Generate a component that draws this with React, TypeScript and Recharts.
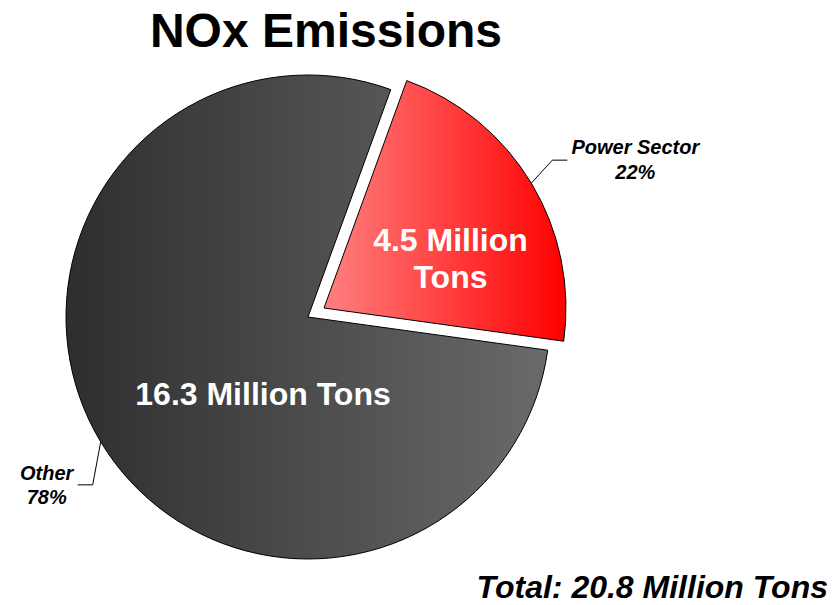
import { PieChart, Pie, Cell } from "recharts";

const sectors = ["Power Sector", "Other"];
const tons = [4.5, 16.3];
const shares = ["22%", "78%"];
const innerLabels = [["4.5 Million", "Tons"], ["16.3 Million Tons"]];
const title = "NOx Emissions";
const totalLabel = "Total: 20.8 Million Tons";

const data = sectors.map((name, i) => ({ name, value: tons[i], share: shares[i] }));

const RADIAN = Math.PI / 180;
const FONT = "'Liberation Sans', Arial, sans-serif";
const R = 242;

const polar = (cx: number, cy: number, r: number, angle: number) => ({
  x: cx + r * Math.cos(-angle * RADIAN),
  y: cy + r * Math.sin(-angle * RADIAN),
});

// labels for the exploded power slice
function powerLabel(props: any) {
  const { cx, cy, midAngle, outerRadius, index } = props;
  if (index !== 0) return null;
  const p0 = polar(cx, cy, outerRadius, midAngle);
  const elbow = { x: p0.x + 21, y: p0.y - 23 };
  const end = { x: elbow.x + 15, y: elbow.y };
  const inner = polar(cx, cy, outerRadius * 0.56, midAngle - 10);
  return (
    <g>
      <polyline points={`${p0.x},${p0.y} ${elbow.x},${elbow.y} ${end.x},${end.y}`} fill="none" stroke="#000" strokeWidth={1} />
      <text textAnchor="middle" fontFamily={FONT} fontSize={20} fontWeight="bold" fontStyle="italic" fill="#000">
        <tspan x={end.x + 68} y={end.y - 6}>{sectors[0]}</tspan>
        <tspan x={end.x + 68} y={end.y + 19}>{shares[0]}</tspan>
      </text>
      <text textAnchor="middle" fontFamily={FONT} fontSize={32} fontWeight="bold" fill="#fff">
        <tspan x={inner.x} y={inner.y - 8}>{innerLabels[0][0]}</tspan>
        <tspan x={inner.x} y={inner.y + 29}>{innerLabels[0][1]}</tspan>
      </text>
    </g>
  );
}

function otherLabel(props: any) {
  const { cx, cy, midAngle, outerRadius, index } = props;
  if (index !== 1) return null;
  const p0 = polar(cx, cy, outerRadius, midAngle);
  const elbow = { x: p0.x - 8, y: p0.y + 43 };
  const end = { x: elbow.x - 15, y: elbow.y };
  return (
    <g>
      <polyline points={`${p0.x},${p0.y} ${elbow.x},${elbow.y} ${end.x},${end.y}`} fill="none" stroke="#000" strokeWidth={1} />
      <text textAnchor="middle" fontFamily={FONT} fontSize={20} fontWeight="bold" fontStyle="italic" fill="#000">
        <tspan x={end.x - 31} y={end.y - 5}>{sectors[1]}</tspan>
        <tspan x={end.x - 31} y={end.y + 19}>{shares[1]}</tspan>
      </text>
      <text x={cx - 45} y={cy + 88} textAnchor="middle" fontFamily={FONT} fontSize={32} fontWeight="bold" fill="#fff">
        {innerLabels[1][0]}
      </text>
    </g>
  );
}

export default function App() {
  return (
    <div style={{ position: "absolute", left: 0, top: 0, width: 832, height: 605, background: "#fff" }}>
      <PieChart width={832} height={605} margin={{ top: 0, right: 0, bottom: 0, left: 0 }}>
        <defs>
          <linearGradient id="gradOther" x1="0" y1="0" x2="1" y2="0">
            <stop offset="0%" stopColor="#2e2e2e" />
            <stop offset="100%" stopColor="#6a6a6a" />
          </linearGradient>
          <linearGradient id="gradPower" x1="0" y1="0" x2="1" y2="0">
            <stop offset="0%" stopColor="#ff8080" />
            <stop offset="100%" stopColor="#ff0000" />
          </linearGradient>
        </defs>
        <text x={326} y={47} textAnchor="middle" fontFamily={FONT} fontSize={48} fontWeight="bold" fill="#000">
          {title}
        </text>
        <text x={828} y={598} textAnchor="end" fontFamily={FONT} fontSize={32} fontWeight="bold" fontStyle="italic" fill="#000">
          {totalLabel}
        </text>
        {/* the power slice, pulled out along its mid angle */}
        <Pie
          data={data}
          dataKey="value"
          nameKey="name"
          cx={324}
          cy={308}
          outerRadius={R}
          startAngle={70}
          endAngle={-290}
          label={powerLabel}
          labelLine={false}
          isAnimationActive={false}
        >
          <Cell fill="url(#gradPower)" stroke="#000" strokeWidth={1} />
          <Cell fill="none" stroke="none" />
        </Pie>
        <Pie
          data={data}
          dataKey="value"
          nameKey="name"
          cx={308}
          cy={317}
          outerRadius={R}
          startAngle={70}
          endAngle={-290}
          label={otherLabel}
          labelLine={false}
          isAnimationActive={false}
        >
          <Cell fill="none" stroke="none" />
          <Cell fill="url(#gradOther)" stroke="#000" strokeWidth={1} />
        </Pie>
      </PieChart>
    </div>
  );
}
